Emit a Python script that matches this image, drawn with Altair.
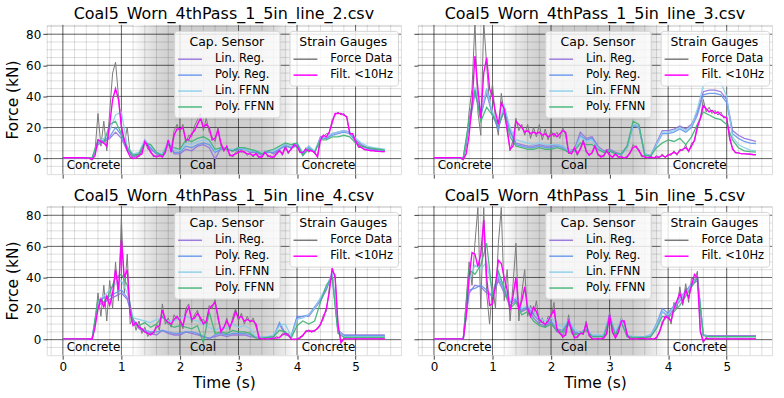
import altair as alt
import pandas as pd

# ---------------- time bases (s) ----------------
T_FINE = [round(0.05 * i, 2) for i in range(111)]   # strain gauge sampling used here
T_CAP = [round(0.1 * i, 1) for i in range(56)]      # capacitive sensor estimates

CAP_NAMES = ["Lin. Reg.", "Poly. Reg.", "Lin. FFNN", "Poly. FFNN"]
CAP_COLORS = ["#9370db", "#6495ed", "#87ceeb", "#3cb371"]
STRAIN_NAMES = ["Force Data", "Filt. <10Hz"]
STRAIN_COLORS = ["#7a7a7a", "#ff00ff"]

TITLES = [
    "Coal5_Worn_4thPass_1_5in_line_2.csv",
    "Coal5_Worn_4thPass_1_5in_line_3.csv",
    "Coal5_Worn_4thPass_1_5in_line_4.csv",
    "Coal5_Worn_4thPass_1_5in_line_5.csv",
]

# ---------------- line_2 ----------------
L2_FORCE = [0.5, 0.6, 0.4, 0.5, 0.7, 0.3, 0.5, 0.6, 0.2, 0.0,
            -1, 5, 29, 8, 24, 5, 30, 55, 62, 40,
            22, 10, 20, 3, 0, 2, 1, 5, 12, 6,
            5, 1, 2, 1, 3, 6, 10, 6, 18, 22,
            17, 22, 10, 15, 14, 21, 25, 29, 18, 26,
            17, 14, 11, 20, 8, 7, 6, 3, 1, 4,
            5, 4, 5, 2, 4, 1, 4, 0, 2, 5,
            1, 2, 0, 4, 6, 2, 9, 3, 7, 10,
            7, 5, 3, 7, 4, 6, 3, 2, 14, 14,
            16, 16, 25, 28, 30, 28, 29, 26, 17, 15,
            12, 7, 7.5, 5.5, 5.8, 5, 5.2, 4.6, 4.8, 4.4, 4.6]
L2_FILT = [0.5, 0.5, 0.5, 0.5, 0.5, 0.5, 0.5, 0.5, 0.4, 0.3,
           -0.5, 2, 12, 11, 10, 8, 22, 38, 45, 38,
           20, 12, 5, 1, 0, 0.5, 2, 3, 11, 8,
           4, 2, 1, 2, 1, 4, 12, 4, 15, 19,
           19, 20, 12, 12, 16, 18, 22, 26, 20, 22,
           20, 12, 13, 18, 10, 5, 8, 2, 2, 3,
           4, 5, 4, 3, 3, 2, 3, 1, 1, 4,
           2, 1, 1, 3, 5, 3, 7, 4, 6, 9,
           8, 4, 4, 6, 5, 5, 4, 1, 12, 15,
           14, 17, 23, 29, 29, 29, 28, 27, 16, 16,
           11, 8, 7, 6, 5.5, 5.2, 5, 4.8, 4.6, 4.5, 4.5]
L2_LINREG = [0.5, 0.5, 0.5, 0.5, 0.5, 0.3,
             9, 11, 13, 17, 13, 5, 1, 2, 12, 6,
             3, 2, 11, 3, 3, 6, 5, 8, 9, 7,
             -0.5, 7, 6, 5, 6, 6, 4, 4, 2, 5,
             3, 6, 9, 7, 8, 2, 8, 4, 14, 13,
             16, 17, 18, 17, 12, 9, 7, 6, 5.5, 5]
L2_POLYREG = [0.5, 0.5, 0.5, 0.5, 0.5, 0.3,
              10, 12, 14, 20, 15, 6, 2, 3, 11, 7,
              3, 3, 10, 4, 4, 8, 7, 9, 10, 9,
              4, 6, 6, 5, 6, 6, 5, 4, 3, 4,
              4, 6, 8, 7, 9, 3, 7, 4, 13, 13,
              15, 16, 17, 16, 11, 8, 6.5, 5.5, 5, 4.5]
L2_LINFFNN = [0.5, 0.5, 0.5, 0.5, 0.5, 0.5,
              11, 13, 18, 28, 30, 8, 3, 4, 12, 8,
              4, 3, 11, 6, 5, 10, 9, 11, 12, 11,
              5, 7, 6, 6, 7, 6, 5, 5, 4, 5,
              5, 7, 9, 8, 10, 4, 8, 5, 13, 14,
              16, 17, 18, 17, 13, 10, 8, 7, 6.5, 6]
L2_POLYFFNN = [0.5, 0.5, 0.5, 0.5, 0.5, 0.5,
               12, 10, 22, 24, 16, 7, 2, 3, 10, 9,
               4, 2, 9, 7, 6, 12, 11, 13, 14, 12,
               6, 7, 6, 5, 7, 7, 6, 5, 3, 5,
               6, 8, 10, 9, 10, 2, 6, 4, 12, 12,
               14, 14, 15, 14, 10, 8, 7, 6.5, 6, 5.5]

# ---------------- line_3 ----------------
L3_FORCE = [0.5, 0.4, 0.6, 0.5, 0.4, 0.6, 0.5, 0.7, 0.5, 0.3,
            -1, 8, 30, 45, 88, 30, 15, 88, 60, 35,
            48, 25, 15, 42, 28, 20, 5, 12, 26, 18,
            22, 15, 22, 13, 20, 14, 22, 12, 19, 12,
            18, 14, 17, 13, 20, 15, 3, 5, 6, 2,
            7, 12, 4, 3, 3, 9, 2, 2, 1, 6,
            3, 0.5, 4, 0.5, 2, 0, 2, 3, 9, 7,
            6, 1, 2, 0, 2, 0, 2, 0.5, 3, 0.5,
            3, 2, 5, 2, 6, 5, 9, 4, 10, 11,
            22, 25, 38, 30, 33, 29, 31, 28, 30, 26,
            27, 12, 7, 3.5, 4, 3, 3.3, 2.7, 3, 2.4, 2.6]
L3_FILT = [0.5, 0.5, 0.5, 0.5, 0.5, 0.5, 0.5, 0.6, 0.6, 0.5,
           -0.5, 3, 15, 35, 66, 45, 26, 55, 65, 45,
           40, 30, 22, 36, 32, 18, 6, 8, 24, 22,
           20, 17, 18, 16, 17, 16, 17, 15, 16, 14,
           15, 16, 14, 16, 18, 17, 4, 3, 7, 3,
           6, 11, 5, 2, 4, 8, 3, 1, 2, 5,
           2, 1, 3, 1, 1, 0.5, 1, 4, 7, 8,
           5, 2, 1, 0.5, 1, 0.5, 1, 1, 2, 1,
           2, 3, 4, 3, 5, 6, 7, 5, 8, 12,
           20, 26, 34, 32, 30, 31, 29, 30, 28, 27,
           26, 14, 6, 4, 3.5, 3.2, 3, 3, 2.8, 2.6, 2.5]
L3_LINREG = [0.5, 0.5, 0.5, 0.5, 0.5, 0.3,
             20, 42, 28, 42, 28, 20, 32, 18, 10, 9,
             8, 8, 9, 8, 8, 9, 8, 5, 6, 17,
             13, 14, 8, 5, 6, 4, 3, 8, 22, 21,
             3, 2, 10, 18, 18, 19, 21, 19, 22, 30,
             43, 44, 44, 43, 38, 18, 15, 13, 12, 11]
L3_POLYREG = [0.5, 0.5, 0.5, 0.5, 0.5, 0.3,
              22, 45, 27, 45, 28, 19, 33, 17, 9, 8,
              7, 7, 8, 7, 7, 8, 7, 4, 5, 15,
              12, 13, 7, 4, 5, 3, 2.5, 7, 21, 20,
              2.5, 1.5, 9, 16, 16, 17, 19, 17, 20, 28,
              41, 42, 42, 41, 36, 16, 13, 11, 10, 9.7]
L3_LINFFNN = [0.5, 0.5, 0.5, 0.5, 0.5, 0.3,
              24, 46, 30, 44, 30, 22, 34, 20, 12, 11,
              10, 9, 10, 9, 9, 9, 8, 5, 5, 14,
              11, 12, 7, 4, 5, 3, 3, 7, 22, 21,
              3, 2, 9, 17, 17, 18, 20, 18, 21, 32,
              47, 49, 49, 49, 40, 14, 9, 7, 5.5, 4.9]
L3_POLYFFNN = [0.5, 0.5, 0.5, 0.5, 0.5, 0.3,
               25, 44, 24, 33, 28, 22, 30, 14, 8, 7,
               6, 6, 7, 6, 6, 7, 6, 4, 5, 10,
               9, 9, 6, 4, 5, 3, 3, 8, 24, 22,
               2, 1.5, 7, 10, 12, 11, 13, 9, 14, 22,
               30, 28, 26, 25, 22, 12, 7, 5, 4.5, 4.2]

# ---------------- line_4 ----------------
L4_FORCE = [0.5, 0.6, 0.4, 0.5, 0.6, 0.4, 0.5, 0.6, 0.5, 0.3,
            0.5, 10, 30, 15, 35, 12, 38, 20, 50, 25,
            78, 30, 55, 10, 14, 6, 12, 4, 8, 2,
            5, 3, 10, 6, 23, 10, 14, 8, 16, 13,
            14, 7, 20, 23, 11, 16, 19, 12, 13, 10,
            22, 20, 26, 13, 6, 7, 14, 6, 14, 20,
            12, 17, 10, 15, 11, 14, 8, 2, 0, 1,
            0, 1, 0.5, 2, 1, 4, 3, 4, 0, 0.5,
            0, 2, 2, 6, 5, 6, 5, 8, 9, 16,
            18, 33, 44, 42, 8, -1, 1, 0.3, 0.6, 0.4,
            0.6, 0.4, 0.5, 0.6, 0.4, 0.5, 0.6, 0.4, 0.5, 0.6, 0.5]
L4_FILT = [0.5, 0.5, 0.5, 0.5, 0.5, 0.5, 0.5, 0.5, 0.5, 0.4,
           0.3, 8, 20, 26, 21, 28, 22, 30, 45, 32,
           64, 40, 45, 17, 9, 11, 8, 7, 5, 4,
           3, 5, 8, 9, 19, 13, 11, 10, 13, 15,
           12, 9, 17, 21, 13, 14, 17, 14, 10, 12,
           20, 22, 24, 15, 5, 8, 12, 8, 12, 18,
           14, 15, 12, 13, 12, 12, 10, 1, 0.5, 0.5,
           0.5, 0.5, 1, 1, 1.5, 3, 4, 3, 0.3, 0,
           0.5, 1, 3, 5, 6, 5, 6, 7, 10, 14,
           20, 30, 46, 40, 10, -2, 0.5, 0.5, 0.5, 0.5,
           0.5, 0.5, 0.5, 0.5, 0.5, 0.5, 0.5, 0.5, 0.5, 0.5, 0.5]
L4_LINREG = [0.5, 0.5, 0.5, 0.5, 0.5, 0.5,
             22, 24, 26, 28, 30, 26, 12, 7, 5, 4,
             3, 6, 4, 3, 3, 5, 4, 3, 2, 1,
             2, 3, 2, 3, 3, 3, 2, 1.5, 1.5, 1.5,
             2, 10, 3, 2, 14, 15, 15, 20, 25, 32,
             42, 6, 3, 3, 3, 3, 3, 3, 3, 3]
L4_POLYREG = [0.5, 0.5, 0.5, 0.5, 0.5, 0.5,
              24, 27, 28, 30, 32, 27, 13, 8, 6, 5,
              5, 6, 5, 4, 4, 5, 5, 4, 2, 0.5,
              3, 4, 3, 4, 4, 4, 3, 1.5, 1.5, 1.5,
              2, 11, 4, 2, 15, 15, 16, 21, 26, 33,
              42, 5, 2.5, 2.5, 2.5, 2.5, 2.5, 2.5, 2.5, 2.5]
L4_LINFFNN = [0.5, 0.5, 0.5, 0.5, 0.5, 0.5,
              25, 28, 32, 36, 38, 30, 14, 13, 12, 11,
              13, 14, 12, 12, 14, 15, 13, 12, 10, 8,
              6, 8, 7, 10, 8, 9, 7, 1.5, 1.5, 2,
              3, 9, 10, 2, 13, 14, 16, 20, 27, 34,
              43, 6, 2, 2, 2, 2, 2, 2, 2, 2]
L4_POLYFFNN = [0.5, 0.5, 0.5, 0.5, 0.5, 0.5,
               26, 24, 30, 40, 42, 35, 10, 9, 11, 8,
               10, 15, 10, 8, 9, 8, 7, 9, -2, 18,
               4, 5, 4, 6, 5, 5, 4, 1, 1, 1.5,
               2, 6, 5, 1, 9, 12, 10, 12, 24, 35,
               40, 4, 1.5, 1.5, 1.5, 1.5, 1.5, 1.5, 1.5, 1.5]

# ---------------- line_5 ----------------
L5_FORCE = [0.6, 0.4, 0.5, 0.6, 0.4, 0.5, 0.6, 0.4, 0.5, 0.5,
            0.3, 25, 50, 35, 62, 85, 20, 85, 30, 10,
            35, 20, 62, 85, 25, 45, 12, 35, 62, 12,
            30, 45, 15, 22, 16, 25, 10, 14, 8, 15,
            14, 24, 5, 6, 1, 4, 16, 4, 2, 1,
            5, 3, 12, 2, 1, 0, 1, 0, 2, 3,
            18, 4, 2, 4, 14, 10, 4, 0, 1, 0,
            1, 0.5, 1, 0, 1, 0, 2, 4, 12, 13,
            17, 10, 24, 20, 34, 22, 36, 24, 40, 38,
            44, 6, -2, 1.5, 0.3, 0.8, 0.3, 0.7, 0.4, 0.6,
            0.4, 0.7, 0.3, 0.6, 0.4, 0.6, 0.5, 0.4, 0.6, 0.4, 0.5]
L5_FILT = [0.5, 0.5, 0.5, 0.5, 0.5, 0.5, 0.5, 0.5, 0.5, 0.5,
           0.3, 15, 40, 56, 55, 47, 55, 77, 40, 22,
           23, 35, 51, 49, 40, 32, 19, 28, 40, 19,
           25, 34, 20, 15, 21, 18, 13, 11, 10, 12,
           16, 19, 7, 4, 2, 3, 13, 6, 1, 2,
           4, 4, 10, 3, 0.5, 0.5, 0.5, 0.5, 1, 4,
           16, 5, 1, 5, 12, 12, 3, 0.5, 0.5, 0.5,
           0.5, 1, 0.5, 0.5, 0.5, 0.5, 1, 5, 10, 15,
           14, 12, 20, 25, 30, 24, 32, 27, 35, 42,
           40, 5, -1, 1, 0.5, 0.5, 0.5, 0.5, 0.5, 0.5,
           0.5, 0.5, 0.5, 0.5, 0.5, 0.5, 0.5, 0.5, 0.5, 0.5, 0.5]
L5_LINREG = [0.5, 0.5, 0.5, 0.5, 0.5, 0.3,
             30, 35, 34, 30, 28, 38, 30, 22, 25, 18,
             20, 14, 10, 9, 11, 5, 3, 10, 4, 5,
             6, 2, 2, 2, 15, 3, 12, 2, 1.5, 1.5,
             1.5, 2, 8, 18, 15, 20, 25, 30, 35, 38,
             3, 2.5, 2.5, 2.5, 2.5, 2.5, 2.5, 2.5, 2.5, 2.5]
L5_POLYREG = [0.5, 0.5, 0.5, 0.5, 0.5, 0.3,
              32, 33, 35, 32, 28, 40, 32, 24, 26, 19,
              21, 16, 12, 10, 12, 7, 6, 12, 5, 4,
              7, 2.5, 2.5, 2.5, 16, 4, 13, 2.5, 2, 2,
              2, 3, 10, 20, 17, 22, 27, 31, 36, 40,
              3, 2, 2, 2, 2, 2, 2, 2, 2, 2]
L5_LINFFNN = [0.5, 0.5, 0.5, 0.5, 0.5, 0.3,
              38, 48, 45, 50, 30, 42, 34, 25, 27, 20,
              22, 18, 14, 12, 14, 10, 8, 13, 7, 4,
              8, 3, 3, 3, 15, 5, 13, 3, 2, 2,
              2, 3, 9, 18, 16, 21, 26, 30, 35, 40,
              3, 2, 2, 2, 2, 2, 2, 2, 2, 2]
L5_POLYFFNN = [0.5, 0.5, 0.5, 0.5, 0.5, 0.3,
               45, 42, 48, 62, 28, 44, 33, 20, 24, 16,
               18, 12, 9, 8, 10, 6, 5, 11, 3, 4,
               6, 2, 2, 2, 14, 3, 11, 2, 1.5, 1.5,
               1.5, 2, 7, 15, 14, 18, 22, 28, 34, 40,
               2.5, 2, 2, 2, 2, 2, 2, 2, 2, 2]

PANELS = [
    (L2_FORCE, L2_FILT, [L2_LINREG, L2_POLYREG, L2_LINFFNN, L2_POLYFFNN]),
    (L3_FORCE, L3_FILT, [L3_LINREG, L3_POLYREG, L3_LINFFNN, L3_POLYFFNN]),
    (L4_FORCE, L4_FILT, [L4_LINREG, L4_POLYREG, L4_LINFFNN, L4_POLYFFNN]),
    (L5_FORCE, L5_FILT, [L5_LINREG, L5_POLYREG, L5_LINFFNN, L5_POLYFFNN]),
]

# region annotations and shading
REGION_LABELS = ["Concrete", "Coal", "Concrete"]
REGION_T = [0.065, 2.17, 4.08]
REGION_V = [-7, -7, -7]
SHADE_START = [1.2]
SHADE_END = [4.0]

# axis / grid positions
X_DOMAIN = [-0.275, 5.775]
Y_DOMAIN = [-10, 86]
MAJOR_X = [0, 1, 2, 3, 4, 5]
MAJOR_Y = [0, 20, 40, 60, 80]
MINOR_X = [round(-0.2 + 0.2 * i, 1) for i in range(30)]
MINOR_Y = [-5 + 5 * i for i in range(19)]

PW, PH = 356, 150
FONT = "DejaVu Sans"


def legend(title, lx, ly):
    return alt.Legend(
        title=title, orient="none", legendX=lx, legendY=ly,
        fillColor="rgba(255,255,255,0.82)", strokeColor="#d4d4d4", cornerRadius=3, padding=5,
        titleFont=FONT, titleFontSize=12.5, titleFontWeight="normal", titleColor="black",
        titleAnchor="middle", titleAlign="center", titlePadding=4,
        labelFont=FONT, labelFontSize=11.5, labelColor="black", labelOffset=18, labelLimit=300,
        labelAlign="left",
        symbolType="M-2,0H2", symbolSize=144, symbolStrokeWidth=1.5, symbolOffset=4,
        rowPadding=3,
    )


def panel(i):
    force, filt, caps = PANELS[i]
    bottom = i >= 2
    left = i % 2 == 0
    xs = alt.Scale(domain=X_DOMAIN, nice=False, zero=False)
    ys = alt.Scale(domain=Y_DOMAIN, nice=False, zero=False)
    xax = alt.Axis(values=MAJOR_X, grid=False, domain=False, tickSize=4, tickColor="#444",
                   labels=bottom, labelFont=FONT, labelFontSize=12, labelColor="black",
                   labelPadding=2, title="Time (s)" if bottom else "", titleFont=FONT,
                   titleFontSize=15.5, titleFontWeight="normal", titleColor="black", titlePadding=3)
    yax = alt.Axis(values=MAJOR_Y, grid=False, domain=False, tickSize=4, tickColor="#444",
                   labels=left, labelFont=FONT, labelFontSize=12, labelColor="black",
                   labelPadding=2, title="Force (kN)" if left else "", titleFont=FONT,
                   titleFontSize=15.5, titleFontWeight="normal", titleColor="black", titlePadding=5)

    shade_df = pd.DataFrame({"s0": SHADE_START, "s1": SHADE_END})
    shade = alt.Chart(shade_df).mark_rect(
        color=alt.LinearGradient(
            gradient="linear", x1=0, x2=1, y1=0, y2=0,
            stops=[
                alt.GradientStop(color="#ffffff", offset=0.0),
                alt.GradientStop(color="#ebebeb", offset=0.07),
                alt.GradientStop(color="#dadada", offset=0.14),
                alt.GradientStop(color="#d0d0d0", offset=0.22),
                alt.GradientStop(color="#cdcdcd", offset=0.5),
                alt.GradientStop(color="#d0d0d0", offset=0.78),
                alt.GradientStop(color="#dcdcdc", offset=0.86),
                alt.GradientStop(color="#ececec", offset=0.93),
                alt.GradientStop(color="#ffffff", offset=1.0),
            ],
        )
    ).encode(x=alt.X("s0:Q", scale=xs, axis=xax), x2="s1:Q", y=alt.value(0), y2=alt.value(PH))

    minx = alt.Chart(pd.DataFrame({"g": MINOR_X})).mark_rule(color="#000000", opacity=0.17, strokeWidth=0.8).encode(
        x=alt.X("g:Q", scale=xs, axis=xax))
    miny = alt.Chart(pd.DataFrame({"g": MINOR_Y})).mark_rule(color="#000000", opacity=0.17, strokeWidth=0.8).encode(
        y=alt.Y("g:Q", scale=ys, axis=yax))
    majx = alt.Chart(pd.DataFrame({"g": MAJOR_X})).mark_rule(color="#000000", opacity=0.6, strokeWidth=0.9).encode(
        x=alt.X("g:Q", scale=xs, axis=xax))
    majy = alt.Chart(pd.DataFrame({"g": MAJOR_Y})).mark_rule(color="#000000", opacity=0.6, strokeWidth=0.9).encode(
        y=alt.Y("g:Q", scale=ys, axis=yax))

    force_df = pd.DataFrame({"t": T_FINE, "v": force, "series": STRAIN_NAMES[0]})
    filt_df = pd.DataFrame({"t": T_FINE, "v": filt})
    cap_rows = []
    for name, vals in zip(CAP_NAMES, caps):
        cap_rows.append(pd.DataFrame({"t": T_CAP, "v": vals, "series": name}))
    cap_df = pd.concat(cap_rows, ignore_index=True)

    force_line = alt.Chart(force_df).mark_line(strokeWidth=1.0, clip=True).encode(
        x=alt.X("t:Q", scale=xs, axis=xax), y=alt.Y("v:Q", scale=ys, axis=yax),
        color=alt.Color("series:N", scale=alt.Scale(domain=STRAIN_NAMES, range=STRAIN_COLORS),
                        legend=legend("Strain Gauges", 244, 6)))
    cap_lines = alt.Chart(cap_df).mark_line(strokeWidth=1.3, opacity=0.9, clip=True).encode(
        x=alt.X("t:Q", scale=xs, axis=xax), y=alt.Y("v:Q", scale=ys, axis=yax),
        color=alt.Color("series:N", scale=alt.Scale(domain=CAP_NAMES, range=CAP_COLORS),
                        legend=legend("Cap. Sensor", 128, 6)),
        detail="series:N")
    filt_line = alt.Chart(filt_df).mark_line(strokeWidth=1.4, color=STRAIN_COLORS[1], clip=True).encode(
        x=alt.X("t:Q", scale=xs, axis=xax), y=alt.Y("v:Q", scale=ys, axis=yax))

    lab_df = pd.DataFrame({"t": REGION_T, "v": REGION_V, "label": REGION_LABELS})
    labels = alt.Chart(lab_df).mark_text(align="left", baseline="alphabetic", font=FONT,
                                         fontSize=12, color="black").encode(
        x=alt.X("t:Q", scale=xs, axis=xax), y=alt.Y("v:Q", scale=ys, axis=yax), text="label:N")

    return alt.layer(shade, minx, miny, majx, majy, force_line, cap_lines, filt_line, labels).resolve_scale(
        color="independent"
    ).properties(
        width=PW, height=PH,
        title=alt.TitleParams(text=TITLES[i], font=FONT, fontSize=16, fontWeight="normal",
                              color="black", offset=2),
    )


chart = alt.concat(panel(0), panel(1), panel(2), panel(3), columns=2, spacing={"row": 32, "column": 17}).properties(
    bounds="flush"
).resolve_scale(color="independent").configure_view(
    stroke="#444444", strokeWidth=1
).configure(
    font=FONT, padding={"left": 5, "top": 5, "right": 11, "bottom": 5}, background="white"
)

chart.save("out.html", embed_options={"renderer": "svg", "actions": False})
